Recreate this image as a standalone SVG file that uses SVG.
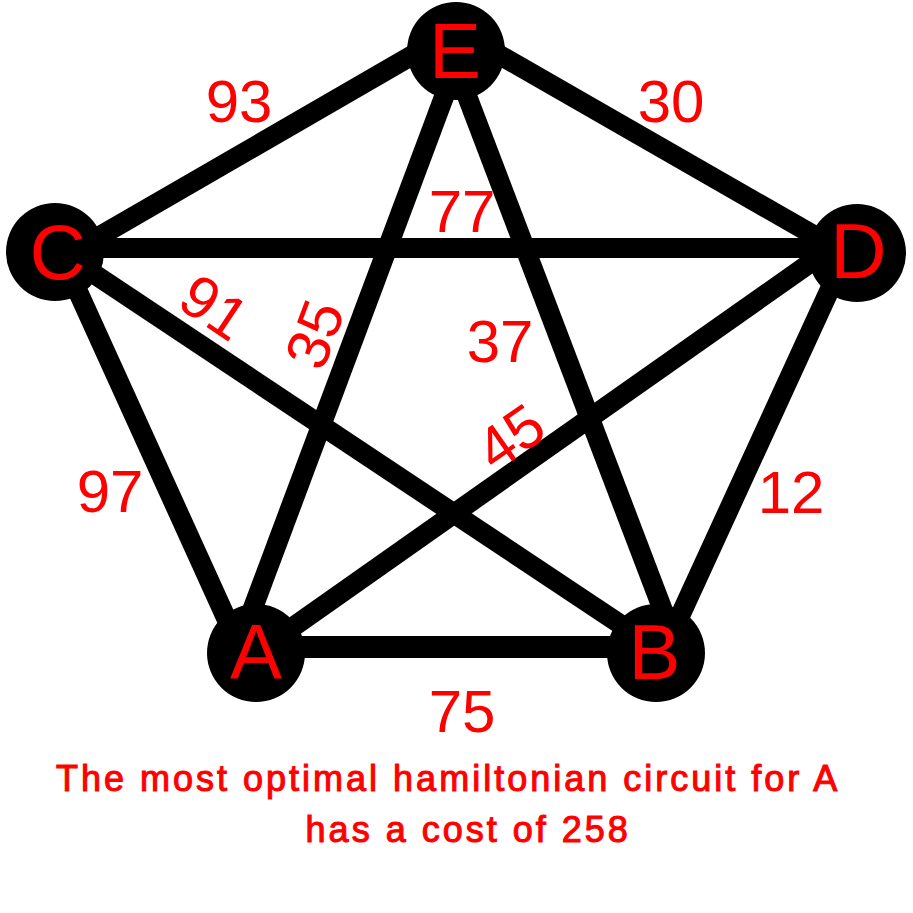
<svg xmlns="http://www.w3.org/2000/svg" width="913" height="913" viewBox="0 0 913 913">
<style>
.edge{stroke:#000;stroke-width:20;fill:none}
.node circle{fill:#000}
.node text{fill:#ff0000;font-family:"Liberation Sans",Arial,sans-serif;font-size:78px;text-anchor:middle}
.lbl{fill:#ff0000;font-family:"Liberation Sans",Arial,sans-serif;font-size:60px;text-anchor:middle}
.cap{fill:#ff0000;stroke:#ff0000;stroke-width:1.1px;font-family:"Liberation Sans",Arial,sans-serif;font-size:36px;letter-spacing:3px}
</style>
<rect width="913" height="913" fill="#fff"/>
<g id="connectors">
<line class="edge" x1="55" y1="262" x2="456" y2="30"/>
<line class="edge" x1="456" y1="30" x2="857" y2="260"/>
<line class="edge" x1="463" y1="46" x2="241" y2="640"/>
<line class="edge" x1="448" y1="46" x2="675" y2="642"/>
<line class="edge" x1="55" y1="248" x2="857" y2="248"/>
<line class="edge" x1="60" y1="252" x2="242" y2="653"/>
<line class="edge" x1="55" y1="248" x2="656" y2="648"/>
<line class="edge" x1="256" y1="653" x2="857" y2="230"/>
<line class="edge" x1="847" y1="252" x2="663" y2="653"/>
<line class="edge" x1="256" y1="647" x2="656" y2="647" style="stroke-width:22"/>
</g>
<g id="node-E" class="node"><circle cx="456" cy="51" r="49"/><text x="455" y="78">E</text></g>
<g id="node-C" class="node"><circle cx="55" cy="252" r="49"/><text x="57.7" y="279">C</text></g>
<g id="node-D" class="node"><circle cx="857" cy="253" r="49"/><text x="858.4" y="278">D</text></g>
<g id="node-A" class="node"><circle cx="256" cy="653" r="49"/><text x="256" y="679">A</text></g>
<g id="node-B" class="node"><circle cx="656" cy="653" r="49"/><text x="654.4" y="679">B</text></g>
<g id="edge-labels">
<text class="lbl" x="239" y="122">93</text>
<text class="lbl" x="671" y="122">30</text>
<text class="lbl" x="462" y="232">77</text>
<text class="lbl" x="500" y="362">37</text>
<text class="lbl" x="110" y="512">97</text>
<text class="lbl" x="791" y="513">12</text>
<text class="lbl" x="462" y="732">75</text>
<text class="lbl" transform="translate(210,303.5) rotate(33.7)" x="5.5" y="21.5">91</text>
<text class="lbl" transform="translate(314,334) rotate(-69.4)" x="0" y="21.5">35</text>
<text class="lbl" transform="translate(510,436.5) rotate(-35)" x="0" y="21.5">45</text>
</g>
<text class="cap" x="56" y="791">The most optimal hamiltonian circuit for A</text>
<text class="cap" x="305.6" y="842">has a cost of 258</text>
</svg>
